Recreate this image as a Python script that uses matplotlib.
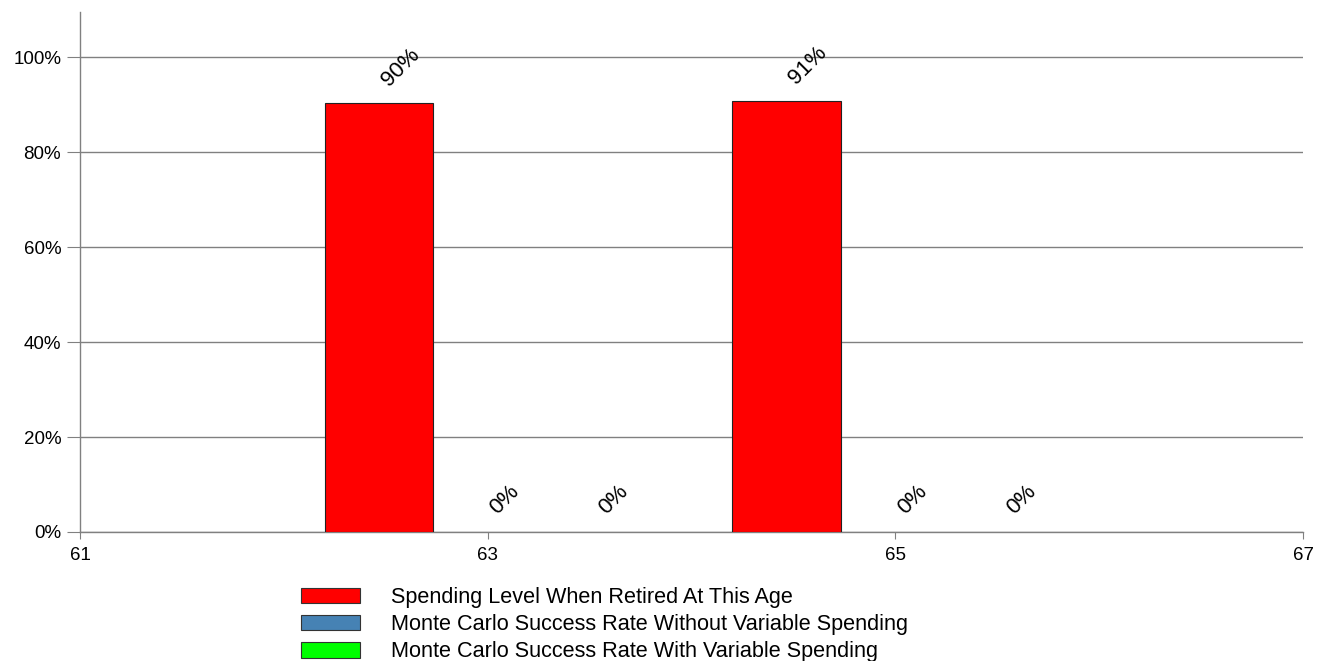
import matplotlib
matplotlib.use("Agg")
import matplotlib.pyplot as plt
from matplotlib.patches import Patch
import numpy as np

plt.rcParams['font.family'] = ['Liberation Sans', 'DejaVu Sans']

ages = [63, 65]
spending_level = [90.3, 90.7]
mc_without = [0.0, 0.0]
mc_with = [0.0, 0.0]
series_names = ["Spending Level When Retired At This Age",
                "Monte Carlo Success Rate Without Variable Spending",
                "Monte Carlo Success Rate With Variable Spending"]
colors = ["#ff0000", "#4682b4", "#00ff00"]
x_ticks = [61, 63, 65, 67]
y_ticks = [0, 20, 40, 60, 80, 100]

fig = plt.figure(figsize=(13.24, 6.61), dpi=100)
ax = fig.add_axes([80/1324, 1-532/661, (1303-80)/1324, (532-12)/661])

grid_c = "#808080"
w = 1.6 / 3
x = np.array(ages, dtype=float)
for i, (vals, c) in enumerate(zip([spending_level, mc_without, mc_with], colors)):
    pos = x + (i - 1) * w
    ax.bar(pos, vals, width=w, color=c, edgecolor="#222222" if i == 0 else "none",
           linewidth=0.8, zorder=3)
    for p, v in zip(pos, vals):
        ax.annotate(f"{v:.0f}%", (p, v), xytext=(7, 12), textcoords="offset points",
                    rotation=45, rotation_mode="anchor", ha="left", va="baseline",
                    fontsize=16, color="black", zorder=4)

ax.set_xlim(61, 67)
ax.set_ylim(0, 109.5)
ax.set_xticks(x_ticks)
ax.set_xticklabels([str(t) for t in x_ticks])
ax.set_yticks(y_ticks)
ax.set_yticklabels([f"{t}%" for t in y_ticks])
ax.yaxis.grid(True, color=grid_c, linewidth=1, zorder=0)
ax.set_axisbelow(True)
for s in ["top", "right"]:
    ax.spines[s].set_visible(False)
for s in ["left", "bottom"]:
    ax.spines[s].set_color(grid_c)
    ax.spines[s].set_linewidth(1)
ax.tick_params(axis="y", length=9.5, color=grid_c, labelsize=13.5, pad=4)
ax.tick_params(axis="x", length=5, color=grid_c, labelsize=13.5, pad=6)

handles = [Patch(facecolor=c, edgecolor="#333333", linewidth=0.8) for c in colors]
fig.legend(handles, series_names, loc="upper left", bbox_to_anchor=(301/1324, 1-587/661),
           frameon=False, fontsize=15.6, handlelength=2.7, handleheight=0.75,
           handletextpad=1.45, labelspacing=0.28, borderaxespad=0, borderpad=0)

fig.savefig("out.png", dpi=100)
